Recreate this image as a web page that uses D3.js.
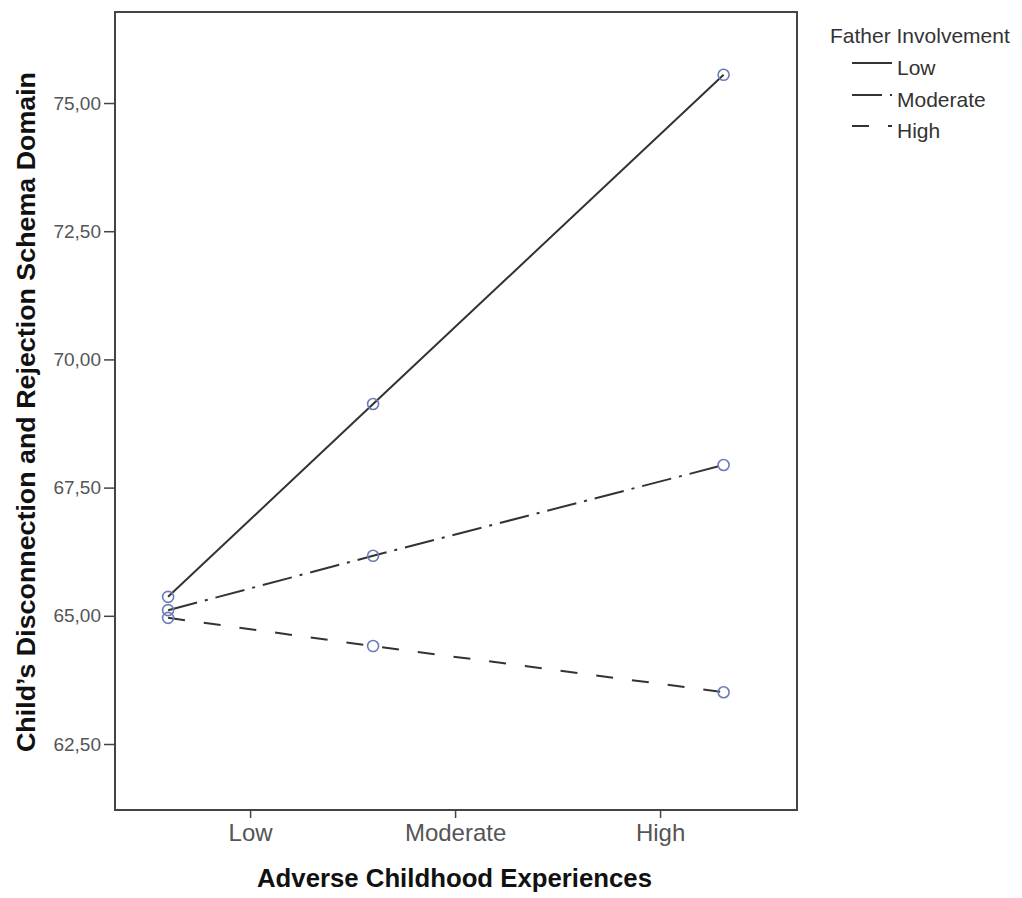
<!DOCTYPE html>
<html>
<head>
<meta charset="utf-8">
<script src="https://cdn.jsdelivr.net/npm/d3@7"></script>
<style>
  body { margin: 0; background: #fff; }
  text { font-family: "Liberation Sans", Arial, sans-serif; }
</style>
</head>
<body>
<svg id="chart" width="1022" height="898"></svg>
<script>
// ---- Data ----
const xTickValues = [1, 2, 3];
const xTickLabels = ["Low", "Moderate", "High"];
const pointX = [0.6, 1.6, 3.31];           // ACE positions of the plotted means
const seriesNames = ["Low", "Moderate", "High"];
const lowValues = [65.37, 69.13, 75.55];
const moderateValues = [65.11, 66.17, 67.94];
const highValues = [64.96, 64.41, 63.51];
const yTickValues = [62.5, 65, 67.5, 70, 72.5, 75];
const yTickLabels = ["62,50", "65,00", "67,50", "70,00", "72,50", "75,00"];

const seriesValues = [lowValues, moderateValues, highValues];
const dashStyles = [null, "30,8,3,8", "17,19"];

const svg = d3.select("#chart");
const pLeft = 115, pRight = 797, pTop = 12, pBottom = 810;

const x = d3.scaleLinear().domain([0.341, 3.668]).range([pLeft, pRight]);
const y = d3.scaleLinear().domain([61.213, 76.775]).range([pBottom, pTop]);

// frame
svg.append("rect")
  .attr("x", pLeft).attr("y", pTop)
  .attr("width", pRight - pLeft).attr("height", pBottom - pTop)
  .attr("fill", "none").attr("stroke", "#444").attr("stroke-width", 2);

// y axis
const yAxis = d3.axisLeft(y).tickValues(yTickValues)
  .tickFormat((d, i) => yTickLabels[i]).tickSize(11).tickPadding(3);
const gy = svg.append("g").attr("transform", `translate(${pLeft},0)`).call(yAxis);
gy.select(".domain").remove();
gy.selectAll("line").attr("stroke", "#444").attr("stroke-width", 1.5);
gy.selectAll("text").attr("font-size", 19).attr("fill", "#555")
  .attr("font-family", "Liberation Sans, Arial, sans-serif");

// x axis
const xAxis = d3.axisBottom(x).tickValues(xTickValues)
  .tickFormat((d, i) => xTickLabels[i]).tickSize(8).tickPadding(6);
const gx = svg.append("g").attr("transform", `translate(0,${pBottom})`).call(xAxis);
gx.select(".domain").remove();
gx.selectAll("line").attr("stroke", "#444").attr("stroke-width", 1.5);
gx.selectAll("text").attr("font-size", 24).attr("fill", "#555")
  .attr("font-family", "Liberation Sans, Arial, sans-serif");

// axis titles
svg.append("text")
  .attr("x", (257 + 652) / 2).attr("y", 887)
  .attr("text-anchor", "middle")
  .attr("font-size", 25).attr("font-weight", "bold").attr("fill", "#111")
  .attr("textLength", 395).attr("lengthAdjust", "spacingAndGlyphs")
  .text("Adverse Childhood Experiences");

svg.append("text")
  .attr("transform", `translate(35,${(72 + 752) / 2}) rotate(-90)`)
  .attr("text-anchor", "middle")
  .attr("font-size", 26).attr("font-weight", "bold").attr("fill", "#111")
  .attr("textLength", 680).attr("lengthAdjust", "spacingAndGlyphs")
  .text("Child’s Disconnection and Rejection Schema Domain");

// lines
const line = d3.line().x((d, i) => x(pointX[i])).y(d => y(d));
seriesValues.forEach((vals, si) => {
  svg.append("path")
    .datum(vals)
    .attr("d", line)
    .attr("fill", "none")
    .attr("stroke", "#333")
    .attr("stroke-width", 2)
    .attr("stroke-dasharray", dashStyles[si]);
});
// markers
seriesValues.forEach(vals => {
  svg.selectAll(null).data(vals).enter().append("circle")
    .attr("cx", (d, i) => x(pointX[i]))
    .attr("cy", d => y(d))
    .attr("r", 5.5)
    .attr("fill", "none")
    .attr("stroke", "#6a7db5")
    .attr("stroke-width", 1.6);
});

// legend
svg.append("text").attr("x", 830).attr("y", 43)
  .attr("font-size", 21).attr("fill", "#333").text("Father Involvement");
const legendY = [63, 95, 126];
seriesNames.forEach((name, i) => {
  svg.append("line")
    .attr("x1", 852).attr("x2", 892)
    .attr("y1", legendY[i]).attr("y2", legendY[i])
    .attr("stroke", "#333").attr("stroke-width", 2)
    .attr("stroke-dasharray", dashStyles[i]);
  svg.append("text").attr("x", 897).attr("y", legendY[i] + 12)
    .attr("font-size", 21).attr("fill", "#333").text(name);
});
</script>
</body>
</html>
